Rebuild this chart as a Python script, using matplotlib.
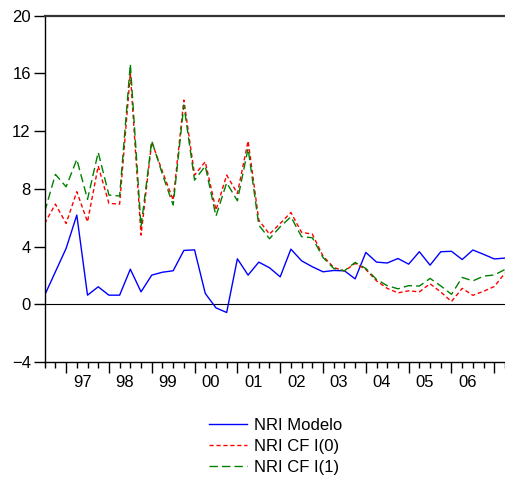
import numpy as np
import matplotlib
matplotlib.use("Agg")
import matplotlib.pyplot as plt

plt.rcParams['font.family'] = ['Liberation Sans', 'DejaVu Sans']

# Trimestral, 1996T3 - 2007T2
años = ["97", "98", "99", "00", "01", "02", "03", "04", "05", "06"]
inicio_año = [2, 6, 10, 14, 18, 22, 26, 30, 34, 38, 42]

nri_modelo = [0.63, 2.25, 3.87, 6.18, 0.63, 1.21, 0.63, 0.63, 2.43, 0.86,
              2.02, 2.22, 2.32, 3.73, 3.77, 0.75, -0.25, -0.57, 3.15, 2.02,
              2.92, 2.53, 1.90, 3.82, 3.01, 2.60, 2.25, 2.34, 2.32, 1.76,
              3.59, 2.92, 2.86, 3.17, 2.78, 3.64, 2.71, 3.64, 3.67, 3.10,
              3.76, 3.46, 3.14, 3.20]
nri_cf_i0 = [5.60, 6.94, 5.60, 7.80, 5.71, 9.58, 6.99, 6.94, 16.0, 4.79,
             11.25, 9.2, 7.22, 14.15, 8.95, 9.88, 6.53, 8.95, 7.68, 11.31,
             5.83, 4.86, 5.60, 6.36, 4.98, 4.86, 3.34, 2.55, 2.30, 2.83,
             2.41, 1.62, 1.10, 0.79, 0.93, 0.86, 1.42, 0.85, 0.19, 1.10,
             0.62, 0.90, 1.23, 2.16]
nri_cf_i1 = [6.41, 9.00, 8.14, 10.04, 7.27, 10.53, 7.57, 7.50, 16.65, 5.37,
             11.33, 9.0, 6.87, 13.80, 8.60, 9.58, 6.11, 8.42, 7.17, 10.80,
             5.49, 4.54, 5.37, 6.06, 4.68, 4.61, 3.24, 2.48, 2.32, 2.90,
             2.48, 1.72, 1.29, 1.07, 1.29, 1.26, 1.79, 1.27, 0.69, 1.86,
             1.62, 1.95, 2.03, 2.41]

x = np.arange(len(nri_modelo))

fig = plt.figure(figsize=(5.05, 4.78), dpi=100)
ax = fig.add_axes([0.0885, 0.2427, 0.9115, 0.7246])

ax.plot(x, nri_modelo, color="#0000ff", lw=1.0, label="NRI Modelo")
ax.plot(x, nri_cf_i0, color="#ff0000", lw=1.0, ls=(0, (3, 2)), label="NRI CF I(0)")
ax.plot(x, nri_cf_i1, color="#008000", lw=1.0, ls=(0, (6, 3)), label="NRI CF I(1)")
ax.axhline(0, color="black", lw=0.8, zorder=0)

ax.set_xlim(0, 43)
ax.set_ylim(-4, 20)
ax.set_yticks(np.arange(-4, 21, 4))

ax.set_xticks(inicio_año)
ax.set_xticklabels([])
ax.set_xticks(x, minor=True)
ax.tick_params(axis="x", which="major", length=8, width=1, direction="out")
ax.tick_params(axis="x", which="minor", length=4, width=1, direction="out")
ax.tick_params(axis="y", length=8, width=1, direction="out", labelsize=12, pad=2)
for i, a in enumerate(años):
    ax.text(inicio_año[i] + 1.5, -4.9, a, ha="center", va="top", fontsize=12)

ax.spines["right"].set_visible(False)
ax.spines["top"].set_linewidth(1.6)
ax.spines["top"].set_color("#333333")
ax.spines["left"].set_linewidth(1.0)
ax.spines["bottom"].set_linewidth(1.0)

fig.legend(loc="upper left", bbox_to_anchor=(0.414, 0.126), frameon=False,
           fontsize=12, handlelength=2.3, handletextpad=0.4, labelspacing=0.36,
           borderaxespad=0, borderpad=0)

fig.savefig("out.png", dpi=100)
